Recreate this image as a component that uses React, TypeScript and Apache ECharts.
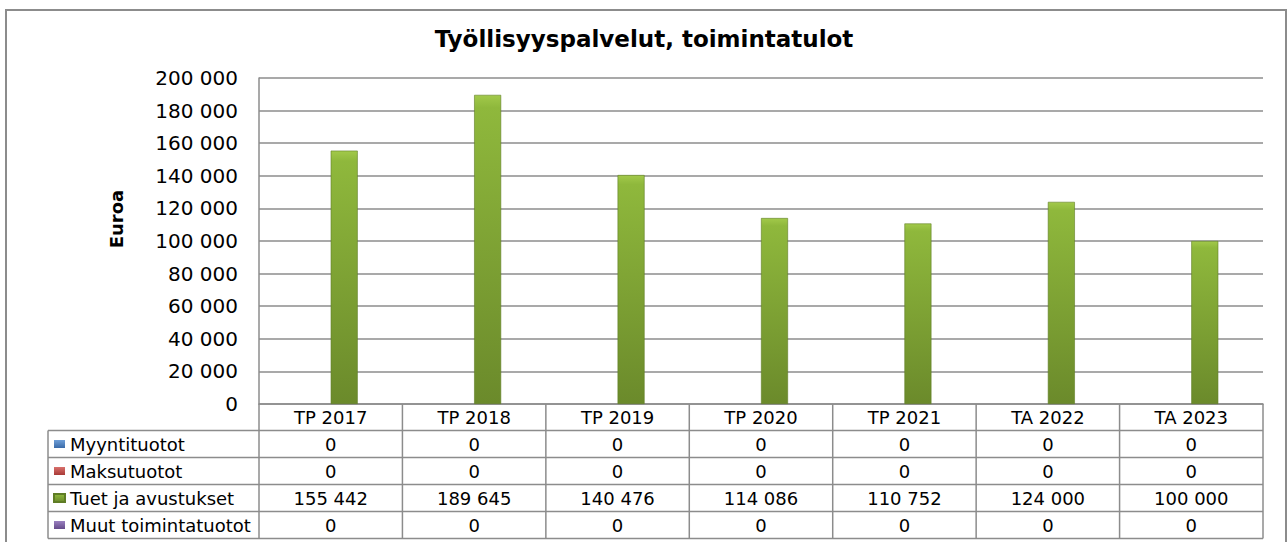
import React, { useEffect, useRef } from "react";
import * as echarts from "echarts";

const categories = ["TP 2017", "TP 2018", "TP 2019", "TP 2020", "TP 2021", "TA 2022", "TA 2023"];
const seriesNames = ["Myyntituotot", "Maksutuotot", "Tuet ja avustukset", "Muut toimintatuotot"];
const myyntituotot = [0, 0, 0, 0, 0, 0, 0];
const maksutuotot = [0, 0, 0, 0, 0, 0, 0];
const tuetJaAvustukset = [155442, 189645, 140476, 114086, 110752, 124000, 100000];
const muutToimintatuotot = [0, 0, 0, 0, 0, 0, 0];
const yMin = 0;
const yMax = 200000;
const yInterval = 20000;
const titleText = "Työllisyyspalvelut, toimintatulot";
const yAxisTitle = "Euroa";

const W = 1288;
const H = 542;
const GRID_L = 259;
const GRID_R = 1263;
const GRID_T = 78;
const GRID_B = 404;
const ROW_H = 27;
const LEG_L = 48;
const LINE = "#8c8c8c";
const FONT = "DejaVu Sans";

const fmt = (v: number) => String(v).replace(/\B(?=(\d{3})+(?!\d))/g, " ");

const allSeries = [myyntituotot, maksutuotot, tuetJaAvustukset, muutToimintatuotot];

const colors = [
  new echarts.graphic.LinearGradient(0, 0, 0, 1, [
    { offset: 0, color: "#6f9fd8" },
    { offset: 1, color: "#3a6aa8" },
  ]),
  new echarts.graphic.LinearGradient(0, 0, 0, 1, [
    { offset: 0, color: "#d9706c" },
    { offset: 1, color: "#a83a37" },
  ]),
  new echarts.graphic.LinearGradient(0, 0, 0, 1, [
    { offset: 0, color: "#a2c94a" },
    { offset: 0.04, color: "#8fb83c" },
    { offset: 1, color: "#6b8a2b" },
  ]),
  new echarts.graphic.LinearGradient(0, 0, 0, 1, [
    { offset: 0, color: "#9a80c0" },
    { offset: 1, color: "#654b8a" },
  ]),
];

export default function App() {
  const ref = useRef<HTMLDivElement>(null);
  useEffect(() => {
    if (!ref.current) return;
    const chart = echarts.init(ref.current, null, { renderer: "svg" });
    const colW = (GRID_R - GRID_L) / categories.length;
    const tableBottom = GRID_B + ROW_H * (seriesNames.length + 1) - 0.5;
    const graphics: any[] = [];
    graphics.push({
      type: "rect",
      shape: { x: 6, y: 10, width: 1280, height: 560 },
      style: { fill: "none", stroke: LINE, lineWidth: 2 },
      silent: true,
    });
    for (let i = 0; i <= categories.length; i++) {
      const x = GRID_L + i * colW;
      graphics.push({
        type: "line",
        shape: { x1: x, y1: GRID_B, x2: x, y2: tableBottom },
        style: { stroke: LINE, lineWidth: 1.5 },
        silent: true,
      });
    }
    graphics.push({
      type: "line",
      shape: { x1: LEG_L, y1: GRID_B + ROW_H - 0.5, x2: LEG_L, y2: tableBottom },
      style: { stroke: LINE, lineWidth: 1.5 },
      silent: true,
    });
    for (let r = 1; r <= seriesNames.length + 1; r++) {
      const y = GRID_B + r * ROW_H - 0.5;
      graphics.push({
        type: "line",
        shape: { x1: LEG_L, y1: y, x2: GRID_R, y2: y },
        style: { stroke: LINE, lineWidth: 1.5 },
        silent: true,
      });
    }
    graphics.push({
      type: "text",
      x: 116,
      y: 219,
      rotation: Math.PI / 2,
      style: {
        text: yAxisTitle,
        font: `bold 18px "${FONT}"`,
        fill: "#000",
        align: "center",
        verticalAlign: "middle",
      },
      silent: true,
    });

    chart.setOption({
      animation: false,
      backgroundColor: "#fff",
      title: {
        text: titleText,
        left: "center",
        top: 27,
        padding: 0,
        textStyle: { fontFamily: FONT, fontWeight: "bold", fontSize: 23, color: "#000" },
      },
      legend: {
        orient: "vertical",
        left: 53,
        top: GRID_B + ROW_H - 0.5,
        padding: 0,
        itemGap: 0,
        itemWidth: 11,
        itemHeight: 8,
        icon: "rect",
        selectedMode: false,
        textStyle: { fontFamily: FONT, fontSize: 18, lineHeight: ROW_H, color: "#000" },
        data: seriesNames.map((n) => ({ name: n, icon: "rect" })),
      },
      grid: { left: GRID_L, right: W - GRID_R, top: GRID_T, bottom: H - GRID_B, containLabel: false },
      xAxis: {
        type: "category",
        data: categories,
        axisLine: { show: true, lineStyle: { color: LINE, width: 1.5 } },
        axisTick: { show: false },
        axisLabel: {
          interval: 0,
          margin: 0,
          fontFamily: FONT,
          fontSize: 18,
          lineHeight: ROW_H,
          color: "#000",
          formatter: (value: string, idx: number) =>
            [value, ...allSeries.map((s) => fmt(s[idx]))].join("\n"),
        },
      },
      yAxis: {
        type: "value",
        min: yMin,
        max: yMax,
        interval: yInterval,
        axisLine: { show: true, lineStyle: { color: LINE, width: 1.5 } },
        axisTick: { show: false },
        splitLine: { lineStyle: { color: LINE, width: 1.5 } },
        axisLabel: { fontFamily: FONT, fontSize: 20, color: "#000", margin: 21, formatter: (v: number) => fmt(v) },
      },
      series: allSeries.map((data, i) => ({
        type: "bar",
        name: seriesNames[i],
        data,
        barGap: "0%",
        barCategoryGap: "24.7%",
        itemStyle: { color: colors[i], borderColor: i === 2 ? "#5f7d25" : undefined, borderWidth: i === 2 ? 0.6 : 0 },
      })),
      graphic: graphics,
    });
    return () => chart.dispose();
  }, []);
  return <div ref={ref} style={{ position: "fixed", left: 0, top: 0, width: W, height: H }} />;
}
